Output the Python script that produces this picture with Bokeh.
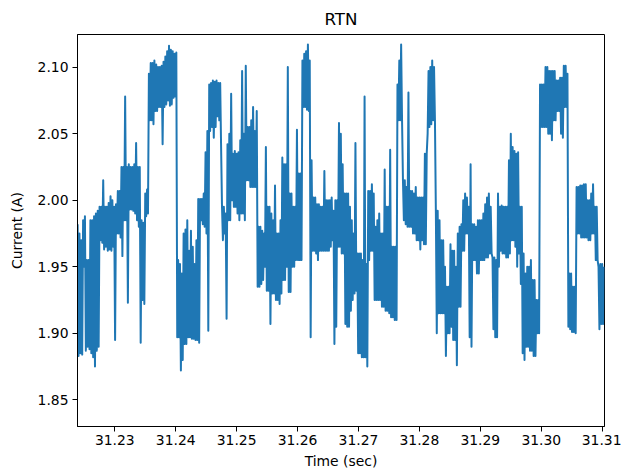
from bokeh.plotting import figure
from bokeh.models import Range1d, FixedTicker, NumeralTickFormatter
from bokeh.embed import file_html
from bokeh.resources import INLINE

# Sampled time axis (sec)
time_sec = [
    31.22390, 31.22405, 31.22420, 31.22435, 31.22450, 31.22465, 31.22480, 31.22495, 31.22510, 31.22525, 31.22540, 31.22555, 31.22570, 31.22585, 31.22600, 31.22615, 31.22630, 31.22645, 31.22660, 31.22675,
    31.22690, 31.22705, 31.22720, 31.22735, 31.22750, 31.22765, 31.22780, 31.22795, 31.22810, 31.22825, 31.22840, 31.22855, 31.22870, 31.22885, 31.22900, 31.22915, 31.22930, 31.22945, 31.22960, 31.22975,
    31.22990, 31.23005, 31.23020, 31.23035, 31.23050, 31.23065, 31.23080, 31.23095, 31.23110, 31.23125, 31.23140, 31.23155, 31.23170, 31.23185, 31.23200, 31.23215, 31.23230, 31.23245, 31.23260, 31.23275,
    31.23290, 31.23305, 31.23320, 31.23335, 31.23350, 31.23365, 31.23380, 31.23395, 31.23410, 31.23425, 31.23440, 31.23455, 31.23470, 31.23485, 31.23500, 31.23515, 31.23530, 31.23545, 31.23560, 31.23575,
    31.23590, 31.23605, 31.23620, 31.23635, 31.23650, 31.23665, 31.23680, 31.23695, 31.23710, 31.23725, 31.23740, 31.23755, 31.23770, 31.23785, 31.23800, 31.23815, 31.23830, 31.23845, 31.23860, 31.23875,
    31.23890, 31.23905, 31.23920, 31.23935, 31.23950, 31.23965, 31.23980, 31.23995, 31.24010, 31.24025, 31.24040, 31.24055, 31.24070, 31.24085, 31.24100, 31.24115, 31.24130, 31.24145, 31.24160, 31.24175,
    31.24190, 31.24205, 31.24220, 31.24235, 31.24250, 31.24265, 31.24280, 31.24295, 31.24310, 31.24325, 31.24340, 31.24355, 31.24370, 31.24385, 31.24400, 31.24415, 31.24430, 31.24445, 31.24460, 31.24475,
    31.24490, 31.24505, 31.24520, 31.24535, 31.24550, 31.24565, 31.24580, 31.24595, 31.24610, 31.24625, 31.24640, 31.24655, 31.24670, 31.24685, 31.24700, 31.24715, 31.24730, 31.24745, 31.24760, 31.24775,
    31.24790, 31.24805, 31.24820, 31.24835, 31.24850, 31.24865, 31.24880, 31.24895, 31.24910, 31.24925, 31.24940, 31.24955, 31.24970, 31.24985, 31.25000, 31.25015, 31.25030, 31.25045, 31.25060, 31.25075,
    31.25090, 31.25105, 31.25120, 31.25135, 31.25150, 31.25165, 31.25180, 31.25195, 31.25210, 31.25225, 31.25240, 31.25255, 31.25270, 31.25285, 31.25300, 31.25315, 31.25330, 31.25345, 31.25360, 31.25375,
    31.25390, 31.25405, 31.25420, 31.25435, 31.25450, 31.25465, 31.25480, 31.25495, 31.25510, 31.25525, 31.25540, 31.25555, 31.25570, 31.25585, 31.25600, 31.25615, 31.25630, 31.25645, 31.25660, 31.25675,
    31.25690, 31.25705, 31.25720, 31.25735, 31.25750, 31.25765, 31.25780, 31.25795, 31.25810, 31.25825, 31.25840, 31.25855, 31.25870, 31.25885, 31.25900, 31.25915, 31.25930, 31.25945, 31.25960, 31.25975,
    31.25990, 31.26005, 31.26020, 31.26035, 31.26050, 31.26065, 31.26080, 31.26095, 31.26110, 31.26125, 31.26140, 31.26155, 31.26170, 31.26185, 31.26200, 31.26215, 31.26230, 31.26245, 31.26260, 31.26275,
    31.26290, 31.26305, 31.26320, 31.26335, 31.26350, 31.26365, 31.26380, 31.26395, 31.26410, 31.26425, 31.26440, 31.26455, 31.26470, 31.26485, 31.26500, 31.26515, 31.26530, 31.26545, 31.26560, 31.26575,
    31.26590, 31.26605, 31.26620, 31.26635, 31.26650, 31.26665, 31.26680, 31.26695, 31.26710, 31.26725, 31.26740, 31.26755, 31.26770, 31.26785, 31.26800, 31.26815, 31.26830, 31.26845, 31.26860, 31.26875,
    31.26890, 31.26905, 31.26920, 31.26935, 31.26950, 31.26965, 31.26980, 31.26995, 31.27010, 31.27025, 31.27040, 31.27055, 31.27070, 31.27085, 31.27100, 31.27115, 31.27130, 31.27145, 31.27160, 31.27175,
    31.27190, 31.27205, 31.27220, 31.27235, 31.27250, 31.27265, 31.27280, 31.27295, 31.27310, 31.27325, 31.27340, 31.27355, 31.27370, 31.27385, 31.27400, 31.27415, 31.27430, 31.27445, 31.27460, 31.27475,
    31.27490, 31.27505, 31.27520, 31.27535, 31.27550, 31.27565, 31.27580, 31.27595, 31.27610, 31.27625, 31.27640, 31.27655, 31.27670, 31.27685, 31.27700, 31.27715, 31.27730, 31.27745, 31.27760, 31.27775,
    31.27790, 31.27805, 31.27820, 31.27835, 31.27850, 31.27865, 31.27880, 31.27895, 31.27910, 31.27925, 31.27940, 31.27955, 31.27970, 31.27985, 31.28000, 31.28015, 31.28030, 31.28045, 31.28060, 31.28075,
    31.28090, 31.28105, 31.28120, 31.28135, 31.28150, 31.28165, 31.28180, 31.28195, 31.28210, 31.28225, 31.28240, 31.28255, 31.28270, 31.28285, 31.28300, 31.28315, 31.28330, 31.28345, 31.28360, 31.28375,
    31.28390, 31.28405, 31.28420, 31.28435, 31.28450, 31.28465, 31.28480, 31.28495, 31.28510, 31.28525, 31.28540, 31.28555, 31.28570, 31.28585, 31.28600, 31.28615, 31.28630, 31.28645, 31.28660, 31.28675,
    31.28690, 31.28705, 31.28720, 31.28735, 31.28750, 31.28765, 31.28780, 31.28795, 31.28810, 31.28825, 31.28840, 31.28855, 31.28870, 31.28885, 31.28900, 31.28915, 31.28930, 31.28945, 31.28960, 31.28975,
    31.28990, 31.29005, 31.29020, 31.29035, 31.29050, 31.29065, 31.29080, 31.29095, 31.29110, 31.29125, 31.29140, 31.29155, 31.29170, 31.29185, 31.29200, 31.29215, 31.29230, 31.29245, 31.29260, 31.29275,
    31.29290, 31.29305, 31.29320, 31.29335, 31.29350, 31.29365, 31.29380, 31.29395, 31.29410, 31.29425, 31.29440, 31.29455, 31.29470, 31.29485, 31.29500, 31.29515, 31.29530, 31.29545, 31.29560, 31.29575,
    31.29590, 31.29605, 31.29620, 31.29635, 31.29650, 31.29665, 31.29680, 31.29695, 31.29710, 31.29725, 31.29740, 31.29755, 31.29770, 31.29785, 31.29800, 31.29815, 31.29830, 31.29845, 31.29860, 31.29875,
    31.29890, 31.29905, 31.29920, 31.29935, 31.29950, 31.29965, 31.29980, 31.29995, 31.30010, 31.30025, 31.30040, 31.30055, 31.30070, 31.30085, 31.30100, 31.30115, 31.30130, 31.30145, 31.30160, 31.30175,
    31.30190, 31.30205, 31.30220, 31.30235, 31.30250, 31.30265, 31.30280, 31.30295, 31.30310, 31.30325, 31.30340, 31.30355, 31.30370, 31.30385, 31.30400, 31.30415, 31.30430, 31.30445, 31.30460, 31.30475,
    31.30490, 31.30505, 31.30520, 31.30535, 31.30550, 31.30565, 31.30580, 31.30595, 31.30610, 31.30625, 31.30640, 31.30655, 31.30670, 31.30685, 31.30700, 31.30715, 31.30730, 31.30745, 31.30760, 31.30775,
    31.30790, 31.30805, 31.30820, 31.30835, 31.30850, 31.30865, 31.30880, 31.30895, 31.30910, 31.30925, 31.30940, 31.30955, 31.30970, 31.30985, 31.31000, 31.31015, 31.31030,
]

# Measured current (A)
current_a = [
    # 31.2239 - 31.2383
    1.982, 1.883, 1.975, 1.885, 1.970, 1.884, 1.985, 1.950, 1.988, 1.887,
    1.955, 1.890, 1.955, 1.888, 1.985, 1.885, 1.985, 1.882, 1.988, 1.875,
    1.990, 1.887, 1.992, 1.890, 1.995, 1.970, 1.995, 1.968, 2.015, 1.963,
    1.995, 1.965, 1.995, 1.962, 1.998, 1.963, 2.003, 1.962, 2.000, 1.965,
    1.995, 1.895, 1.997, 1.975, 2.007, 1.975, 2.007, 1.972, 2.025, 1.958,
    2.025, 1.985, 2.078, 1.985, 2.025, 1.923, 2.027, 1.993, 2.025, 1.993,
    2.025, 1.992, 2.027, 1.990, 2.043, 1.985, 2.025, 1.980, 2.025, 1.893,
    1.985, 1.925, 1.983, 1.922, 2.005, 1.988, 2.008, 1.990, 2.095, 2.060,
    2.103, 2.060, 2.103, 2.057, 2.105, 2.067, 2.102, 2.067, 2.100, 2.070,
    2.100, 2.070, 2.101, 2.042, 2.104, 2.070, 2.108, 2.072,
    # 31.2386 - 31.2530
    2.112, 2.075, 2.116, 2.071, 2.113, 2.072, 2.112, 2.077, 2.110, 2.078,
    2.111, 1.897, 1.955, 1.897, 1.952, 1.872, 1.945, 1.880, 1.975, 1.892,
    1.978, 1.892, 1.985, 1.897, 1.962, 1.897, 1.977, 1.896, 1.965, 1.896,
    1.952, 1.895, 1.970, 1.895, 2.001, 1.893, 2.001, 1.985, 2.001, 1.982,
    2.005, 1.980, 2.036, 1.975, 2.052, 1.902, 2.087, 2.052, 2.088, 2.055,
    2.090, 2.047, 2.089, 2.055, 2.090, 2.063, 2.088, 2.060, 2.088, 2.040,
    1.995, 1.970, 1.995, 1.975, 1.990, 1.911, 2.042, 1.985, 2.050, 1.985,
    2.080, 2.000, 2.035, 1.995, 2.037, 1.995, 2.035, 1.990, 2.036, 1.985,
    2.045, 1.990, 2.097, 1.990, 2.050, 1.985, 2.101, 2.015, 2.055, 2.015,
    2.055, 2.010, 2.060, 2.010, 2.070, 2.010,
    # 31.2530 - 31.2674
    2.052, 2.010, 2.067, 1.935, 1.980, 1.935, 1.980, 1.937, 1.977, 1.940,
    1.975, 1.950, 2.040, 1.932, 1.995, 1.932, 1.995, 1.907, 1.990, 1.930,
    1.985, 1.930, 2.011, 1.925, 1.975, 1.925, 1.975, 1.922, 1.985, 1.930,
    2.032, 1.940, 2.027, 1.940, 2.027, 1.950, 2.100, 1.931, 2.005, 1.931,
    2.005, 1.950, 1.995, 1.950, 1.995, 1.955, 2.053, 1.955, 2.020, 1.955,
    2.020, 1.955, 2.105, 2.070, 2.110, 2.070, 2.112, 2.068, 2.117, 2.067,
    2.105, 1.897, 2.030, 1.962, 2.002, 1.962, 2.002, 1.960, 1.997, 1.955,
    1.997, 1.962, 1.995, 1.962, 1.995, 1.962, 2.022, 1.962, 2.000, 1.962,
    2.000, 1.962, 2.000, 1.965, 2.002, 1.970, 1.992, 1.892, 2.000, 1.905,
    2.000, 1.965, 2.058, 1.965, 2.050, 1.960,
    # 31.2674 - 31.2818
    2.027, 1.960, 2.005, 1.907, 2.005, 1.905, 2.005, 1.905, 1.995, 1.917,
    1.985, 1.925, 1.975, 1.930, 2.043, 1.932, 1.960, 1.885, 1.960, 1.885,
    1.960, 1.882, 1.955, 1.882, 2.078, 1.882, 1.952, 1.875, 2.007, 1.955,
    2.007, 1.962, 2.012, 1.962, 2.005, 1.925, 1.980, 1.925, 1.985, 1.925,
    1.990, 1.925, 1.975, 1.920, 1.975, 1.920, 2.023, 1.917, 1.995, 1.917,
    1.995, 1.915, 2.038, 1.912, 1.965, 1.912, 1.965, 1.910, 1.965, 1.910,
    2.087, 2.060, 2.105, 2.060, 2.117, 2.060, 2.015, 1.985, 2.015, 1.982,
    2.010, 1.980, 2.081, 1.980, 2.007, 1.980, 2.007, 1.975, 2.005, 1.975,
    2.010, 1.970, 2.002, 1.970, 2.002, 1.963, 2.002, 1.970, 2.002, 1.967,
    2.035, 1.967, 2.035, 2.050, 2.097, 2.055,
    # 31.2818 - 31.2962
    2.100, 2.057, 2.105, 2.060, 2.100, 2.060, 1.992, 1.900, 1.992, 1.915,
    1.985, 1.915, 1.970, 1.915, 1.970, 1.915, 1.950, 1.883, 1.935, 1.900,
    1.935, 1.900, 1.967, 1.905, 1.962, 1.895, 1.962, 1.895, 1.950, 1.876,
    1.975, 1.920, 1.980, 1.920, 1.982, 1.962, 2.000, 1.962, 2.005, 1.975,
    2.002, 1.975, 1.995, 1.897, 2.027, 1.890, 1.982, 1.955, 1.982, 1.955,
    1.980, 1.945, 1.985, 1.945, 1.985, 1.955, 1.985, 1.955, 1.990, 1.955,
    1.997, 1.957, 2.002, 1.957, 2.005, 1.960, 1.995, 1.960, 1.957, 1.903,
    1.957, 1.897, 1.955, 1.897, 2.005, 1.950, 1.995, 1.962, 1.996, 1.960,
    1.995, 1.960, 1.995, 1.957, 1.995, 1.957, 2.030, 1.960, 2.050, 1.970,
    2.040, 1.970, 2.037, 1.965, 2.035, 1.950,
    # 31.2962 - 31.3103
    2.036, 1.960, 1.995, 1.937, 1.995, 1.885, 1.960, 1.880, 1.945, 1.890,
    1.950, 1.890, 1.950, 1.887, 1.955, 1.887, 1.940, 1.883, 1.940, 1.883,
    1.925, 1.900, 1.925, 1.900, 2.087, 2.055, 2.087, 2.055, 2.087, 2.055,
    2.100, 2.055, 2.100, 2.050, 2.097, 2.050, 2.097, 2.045, 2.097, 2.060,
    2.097, 2.060, 2.090, 2.067, 2.090, 2.067, 2.092, 2.050, 2.092, 2.047,
    2.101, 2.070, 2.101, 2.070, 2.095, 1.905, 1.945, 1.903, 1.945, 1.901,
    1.935, 1.901, 1.935, 1.900, 2.010, 1.975, 2.010, 1.975, 2.011, 1.972,
    2.011, 1.972, 2.012, 1.972, 2.012, 1.972, 2.000, 1.970, 2.000, 1.970,
    2.005, 1.975, 2.012, 1.975, 1.995, 1.955, 1.995, 1.955, 1.950, 1.903,
    1.952, 1.907, 1.952, 1.907, 1.950,
]

x_ticks = [31.23, 31.24, 31.25, 31.26, 31.27, 31.28, 31.29, 31.30, 31.31]
y_ticks = [1.85, 1.90, 1.95, 2.00, 2.05, 2.10]

FONT = "DejaVu Sans"

p = figure(
    width=621, height=471,
    output_backend="svg", toolbar_location=None,
    x_range=Range1d(31.22388, 31.31038),
    y_range=Range1d(1.8300, 2.1245),
    title="RTN",
    min_border_left=77, min_border_right=17,
    min_border_top=34, min_border_bottom=44,
)

p.line(time_sec, current_a, line_color="#1f77b4", line_width=2.0, line_join="round")

p.background_fill_color = "white"
p.border_fill_color = "white"
p.outline_line_color = "black"
p.outline_line_width = 1
p.xgrid.visible = False
p.ygrid.visible = False

p.title.align = "center"
p.title.text_font = FONT
p.title.text_font_size = "16.7px"
p.title.text_font_style = "normal"
p.title.text_color = "black"
p.title.standoff = 11

p.xaxis.ticker = FixedTicker(ticks=x_ticks)
p.yaxis.ticker = FixedTicker(ticks=y_ticks)
p.xaxis.formatter = NumeralTickFormatter(format="0.00")
p.yaxis.formatter = NumeralTickFormatter(format="0.00")
p.xaxis.axis_label = "Time (sec)"
p.yaxis.axis_label = "Current (A)"

for ax in (p.xaxis[0], p.yaxis[0]):
    ax.axis_line_color = "black"
    ax.major_tick_line_color = "black"
    ax.major_tick_out = 5
    ax.major_tick_in = 0
    ax.minor_tick_line_color = None
    ax.major_label_text_font = FONT
    ax.major_label_text_font_size = "13.9px"
    ax.major_label_text_color = "black"
    ax.major_label_standoff = 4
    ax.axis_label_text_font = FONT
    ax.axis_label_text_font_size = "13.9px"
    ax.axis_label_text_font_style = "normal"
    ax.axis_label_text_color = "black"

p.xaxis[0].major_label_standoff = 3
p.xaxis[0].axis_label_standoff = 5
p.yaxis[0].axis_label_standoff = 10

open("out.html", "w").write(file_html(p, INLINE))
